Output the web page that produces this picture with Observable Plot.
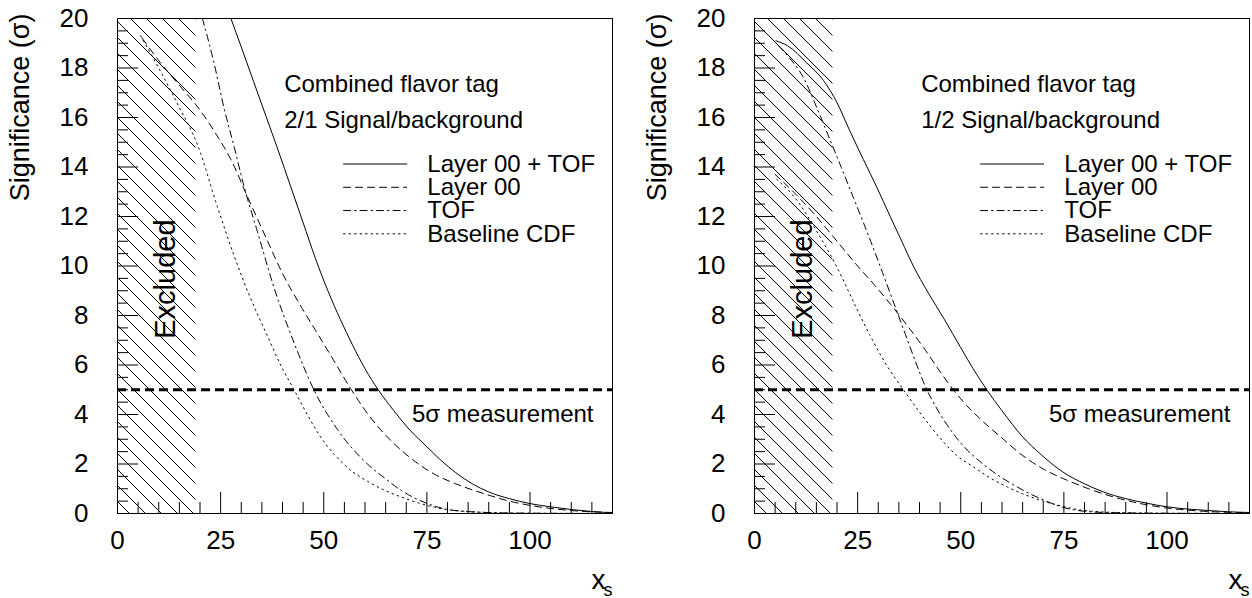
<!DOCTYPE html>
<html><head><meta charset="utf-8">
<script src="https://cdn.jsdelivr.net/npm/d3@7"></script>
<script src="https://cdn.jsdelivr.net/npm/@observablehq/plot@0.6"></script>
<style>
html,body{margin:0;padding:0;background:#fff;overflow:hidden;}
#wrap{position:relative;width:1252px;height:598px;}
#wrap svg{position:absolute;top:0;overflow:visible;}
</style></head><body><div id="wrap"></div>
<script>
// ---- data ----
const seriesNames = ["Layer 00 + TOF", "Layer 00", "TOF", "Baseline CDF"];
const panelTitles = ["Combined flavor tag", "Combined flavor tag"];
const panelRatios = ["2/1 Signal/background", "1/2 Signal/background"];
const excludedRange = [0, 19];
const fiveSigma = [5];
const xMajorTicks = [0, 25, 50, 75, 100];
const xMinorTicks = [5,10,15,20,30,35,40,45,55,60,65,70,80,85,90,95,105,110,115,120];
const yMajorTicks = [0,2,4,6,8,10,12,14,16,18,20];
const yMinorTicks = [0.5,1,1.5,2.5,3,3.5,4.5,5,5.5,6.5,7,7.5,8.5,9,9.5,10.5,11,11.5,12.5,13,13.5,14.5,15,15.5,16.5,17,17.5,18.5,19,19.5];

// Left panel: 2/1 signal/background  [x_s, significance]
const leftCombined = [[27.5,20],[30,18.85],[33,17.45],[36,16.05],[39,14.65],[42,13.2],[45,11.75],[48,10.3],[51,9.0],[54,7.85],[57,6.8],[60,5.85],[63.2,5.0],[67,4.15],[71,3.35],[75,2.7],[78.4,2.15],[82,1.65],[86,1.2],[90,0.87],[95,0.6],[100,0.4],[105,0.27],[110,0.16],[115,0.08],[120,0.03]];
const leftLayer00 = [[6,19.2],[10,18.3],[15,17.3],[20,16.3],[24,15.3],[27.5,14.3],[31.5,12.8],[36.4,11.0],[40,9.7],[44,8.5],[48,7.4],[52,6.3],[56.5,5.05],[61,3.95],[66.2,2.96],[71,2.25],[76.7,1.6],[82,1.2],[88.9,0.8],[95,0.5],[101,0.3],[110,0.12],[120,0.04]];
const leftTOF = [[20.6,20],[23.4,18.2],[25.8,16.4],[28.3,14.8],[30.7,13.2],[33.9,11.4],[38,9.1],[42.8,6.9],[47.6,5.0],[53.3,3.4],[60.6,2.0],[65,1.4],[68.7,0.94],[73,0.55],[79,0.2],[85,0.08],[95,0.02],[120,0]];
const leftBaseline = [[5.6,19.3],[10,18.0],[15,16.4],[19.4,14.9],[24.2,12.4],[28.3,10.4],[32,8.8],[36,7.3],[40,5.85],[42.8,5.0],[46,4.0],[49,3.15],[52.5,2.4],[56.5,1.75],[60.6,1.3],[65,0.92],[68.7,0.67],[75,0.33],[81,0.13],[90,0.04],[100,0.01],[120,0]];

// Right panel: 1/2 signal/background
const rightCombined = [[5.2,19.1],[8,18.9],[12.7,18.2],[16.7,17.5],[20,16.6],[23,15.5],[26.4,14.3],[29.6,13.2],[32.9,12.0],[35.7,11.0],[38.5,10.0],[42,8.95],[46,7.85],[50,6.7],[53,5.85],[56.3,5.0],[60,4.15],[65,3.1],[69.2,2.42],[75,1.65],[80,1.2],[84.6,0.87],[90,0.6],[95,0.42],[100,0.27],[105,0.18],[110,0.12],[115,0.07],[120,0.04]];
const rightLayer00 = [[5,13.7],[10,12.9],[15,12.0],[20,11.0],[25,10.0],[29,9.25],[33,8.45],[37,7.6],[41,6.7],[44.5,5.85],[48.2,5.0],[51.5,4.35],[55.5,3.7],[60,3.05],[64.4,2.42],[70,1.8],[75.7,1.35],[81,1.0],[87,0.67],[93,0.42],[100,0.22],[110,0.08],[120,0.03]];
const rightTOF = [[5.8,18.9],[8.5,18.4],[11.9,17.6],[15.1,16.4],[18.3,15.1],[21,14.0],[24,12.75],[27,11.5],[30,10.2],[33,8.85],[36,7.5],[39,6.15],[41.5,5.1],[44,4.3],[46,3.75],[50,2.85],[56.3,1.88],[63.6,1.08],[70,0.55],[77.3,0.15],[85,0.04],[100,0.01],[120,0]];
const rightBaseline = [[5.4,13.5],[10.3,12.65],[15.1,11.4],[20,9.95],[24,8.55],[28,7.2],[32,6.0],[36.1,5.0],[40,4.1],[45.5,2.95],[49,2.35],[53.1,1.88],[57,1.45],[61.2,1.08],[65,0.8],[69.2,0.54],[75,0.28],[80,0.12],[90,0.03],[100,0.01],[120,0]];

// ---- layout / style ----
const FONT = "'Liberation Sans', Arial, Helvetica, sans-serif";
const W = 614, H = 598, ML = 117, MR = 2, MT = 18, MB = 85;
const PX = (W - ML - MR) / 120;   // px per x unit
const PY = (H - MT - MB) / 20;    // px per y unit
const dashes = ["none", "7,5", "7,4,1.5,4", "1.5,4"];
const legendRowsY = [14.12, 13.18, 12.24, 11.30];

function panel(curves, title, ratio, idx) {
  const marks = [
    Plot.rect([excludedRange], {x1: d => d[0], x2: d => d[1], y1: 0, y2: 20, fill: "url(#hatch)"}),
    Plot.ruleX(xMinorTicks, {x: d => d, y1: 0, y2: 11 / PY, stroke: "black", strokeWidth: 1}),
    Plot.ruleX(xMajorTicks, {x: d => d, y1: 0, y2: 21 / PY, stroke: "black", strokeWidth: 1}),
    Plot.ruleY(yMinorTicks, {y: d => d, x1: 0, x2: 11 / PX, stroke: "black", strokeWidth: 1}),
    Plot.ruleY(yMajorTicks, {y: d => d, x1: 0, x2: 21 / PX, stroke: "black", strokeWidth: 1}),
    Plot.ruleY(fiveSigma, {y: d => d, stroke: "black", strokeWidth: 3, strokeDasharray: "9,5"}),
    Plot.axisX({ticks: xMajorTicks, tickSize: 0, tickPadding: 17, fontSize: 26, label: null}),
    Plot.axisY({ticks: yMajorTicks, tickSize: 0, tickPadding: 29, fontSize: 26, label: null}),
  ];
  curves.forEach((c, i) => {
    marks.push(Plot.line(c, {x: d => d[0], y: d => d[1], curve: "monotone-x", stroke: "black",
      strokeWidth: 1, strokeDasharray: dashes[i], clip: true}));
  });
  // legend
  seriesNames.forEach((name, i) => {
    marks.push(Plot.line([[54.8, legendRowsY[i]], [70.1, legendRowsY[i]]], {x: d => d[0], y: d => d[1],
      stroke: "black", strokeWidth: 1, strokeDasharray: dashes[i]}));
    marks.push(Plot.text([name], {x: 75.1, y: legendRowsY[i], text: d => d, textAnchor: "start",
      lineAnchor: "middle", fontSize: 24, fontFamily: FONT}));
  });
  marks.push(
    Plot.text([title], {x: 40.4, y: 17.04, text: d => d, textAnchor: "start", lineAnchor: "bottom", fontSize: 24, fontFamily: FONT}),
    Plot.text([ratio], {x: 40.4, y: 15.56, text: d => d, textAnchor: "start", lineAnchor: "bottom", fontSize: 24, fontFamily: FONT}),
    Plot.text(["5σ measurement"], {x: 115.4, y: 3.7, text: d => d, textAnchor: "end", lineAnchor: "bottom", fontSize: 24, fontFamily: FONT}),
    Plot.text(["Excluded"], {x: 14, y: 9.47, text: d => d, rotate: -90, textAnchor: "middle", lineAnchor: "bottom", fontSize: 29, fontFamily: FONT}),
    Plot.text(["Significance (σ)"], {frameAnchor: "top-left", text: d => d, rotate: -90, dx: -89, dy: -5,
      textAnchor: "end", lineAnchor: "bottom", fontSize: 27, fontFamily: FONT}),
    Plot.text(["x"], {frameAnchor: "bottom-right", text: d => d, dx: -7, dy: 75, textAnchor: "end", lineAnchor: "bottom", fontSize: 28, fontFamily: FONT}),
    Plot.text(["s"], {frameAnchor: "bottom-right", text: d => d, dx: 0, dy: 82, textAnchor: "end", lineAnchor: "bottom", fontSize: 18, fontFamily: FONT}),
    Plot.frame({stroke: "black", strokeWidth: 1})
  );
  const svg = Plot.plot({
    width: W, height: H, marginLeft: ML, marginRight: MR, marginTop: MT, marginBottom: MB,
    x: {domain: [0, 120]}, y: {domain: [0, 20]},
    style: {fontFamily: FONT, fontSize: "24px", color: "black", background: "white", overflow: "visible"},
    marks
  });
  const ns = "http://www.w3.org/2000/svg";
  const defs = document.createElementNS(ns, "defs");
  const pat = document.createElementNS(ns, "pattern");
  pat.setAttribute("id", "hatch");
  pat.setAttribute("patternUnits", "userSpaceOnUse");
  pat.setAttribute("width", "16"); pat.setAttribute("height", "16");
  const p = document.createElementNS(ns, "path");
  p.setAttribute("d", "M0,0L16,16M-2,14L2,18M14,-2L18,2");
  p.setAttribute("stroke", "black"); p.setAttribute("stroke-width", "1"); p.setAttribute("fill", "none");
  pat.appendChild(p); defs.appendChild(pat);
  svg.insertBefore(defs, svg.firstChild);
  svg.style.left = (idx === 0 ? 0 : 637) + "px";
  return svg;
}

const wrap = document.getElementById("wrap");
wrap.appendChild(panel([leftCombined, leftLayer00, leftTOF, leftBaseline], panelTitles[0], panelRatios[0], 0));
wrap.appendChild(panel([rightCombined, rightLayer00, rightTOF, rightBaseline], panelTitles[1], panelRatios[1], 1));
</script></body></html>
